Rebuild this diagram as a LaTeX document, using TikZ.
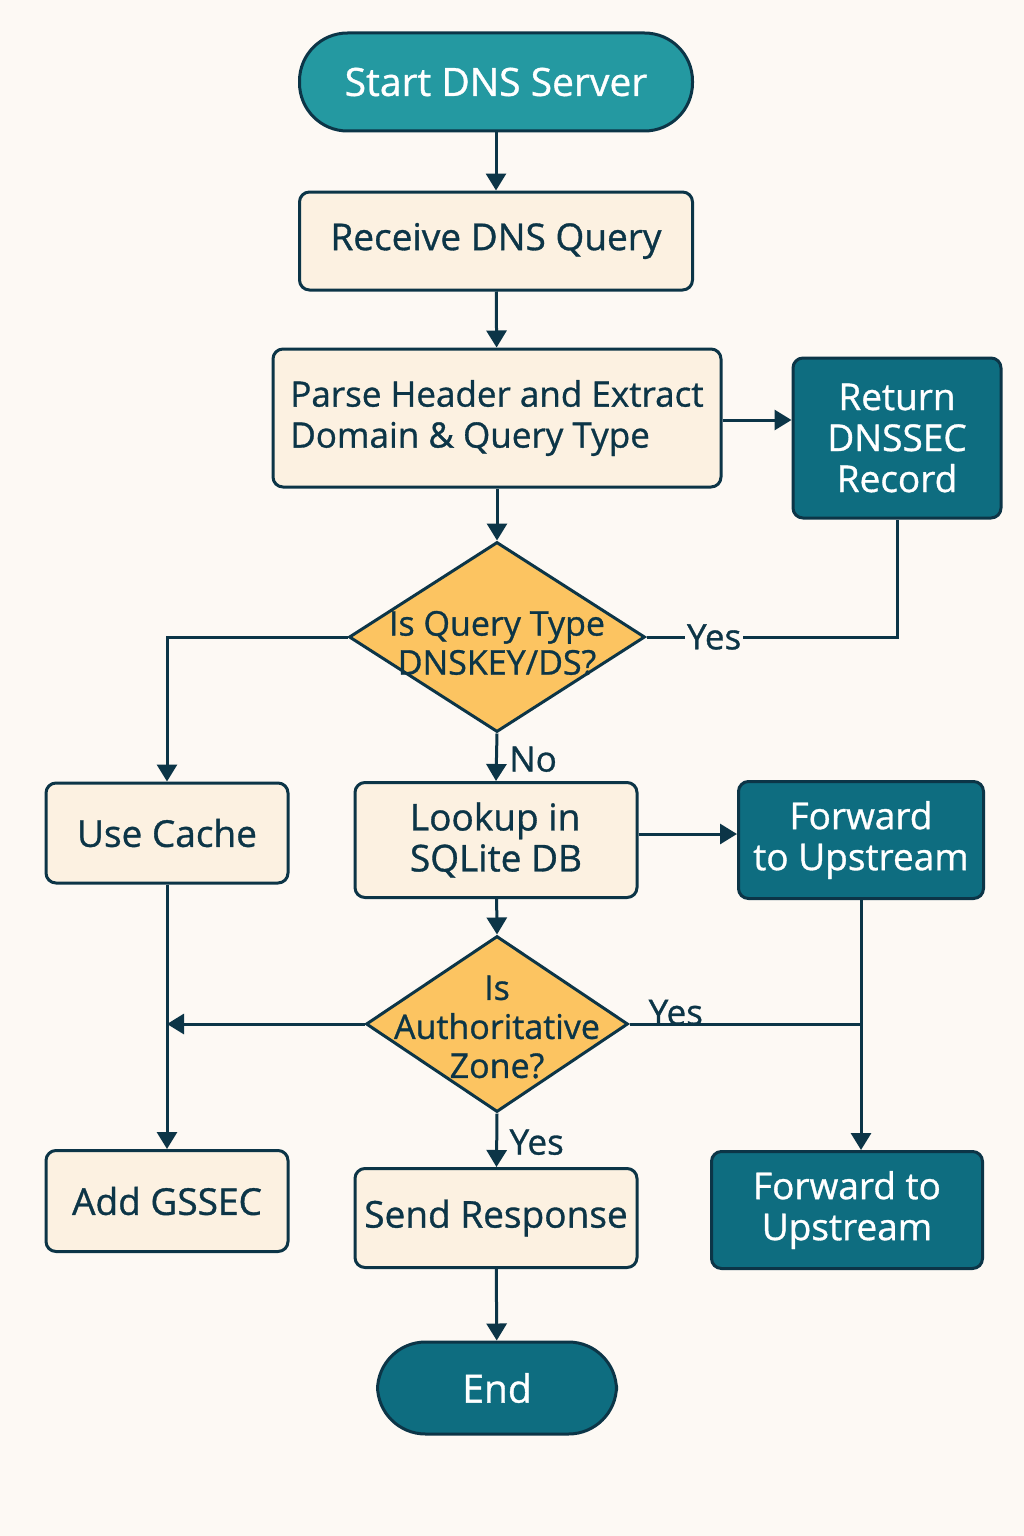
\documentclass[tikz,border=0pt]{standalone}
\usepackage{fontspec}
\setmainfont{Open Sans}[FakeBold=0.9]
\usepackage{xcolor}
\usepackage{tikz}
\usetikzlibrary{shapes,shapes.geometric,arrows.meta,positioning,calc}

\definecolor{bgcream}{HTML}{FDF9F4}
\definecolor{boxcream}{HTML}{FCF1E1}
\definecolor{inkdark}{HTML}{0C3547}
\definecolor{tealstart}{HTML}{2499A1}
\definecolor{tealdark}{HTML}{0E6D80}
\definecolor{amber}{HTML}{FCC461}

\begin{document}
\begin{tikzpicture}[
    x=1pt, y=-1pt,
    font=\fontsize{37}{41}\selectfont,
    >={Triangle[width=20pt,length=17pt]},
    line width=3pt,
    every node/.style={text=inkdark},
    process/.style={draw=inkdark, fill=boxcream, rounded corners=10pt, align=center, inner sep=0pt},
    darkbox/.style={draw=inkdark, fill=tealdark, rounded corners=10pt, align=center, inner sep=0pt, text=white},
    terminal/.style={draw=inkdark, rounded corners=48pt, align=center, inner sep=0pt, text=white,
                     font=\fontsize{39}{43}\selectfont},
    decision/.style={draw=inkdark, fill=amber, diamond, inner sep=0pt},
    dectext/.style={align=center, text=inkdark, font=\fontsize{34}{39}\selectfont},
    flow/.style={draw=inkdark, ->},
    link/.style={draw=inkdark},
    answer/.style={fill=bgcream, inner sep=2pt, font=\fontsize{35}{40}\selectfont}
]
    % Background
    \fill[bgcream] (0,0) rectangle (1024,1536);
    \useasboundingbox (0,0) rectangle (1024,1536);

    % Main column
    \node[terminal, fill=tealstart, minimum width=393, minimum height=98] (start) at (496,82) {Start DNS Server};
    \node[process, minimum width=393, minimum height=98] (recv) at (496,241) {Receive DNS Query};
    \node[process, minimum width=448, minimum height=138, align=left,
          font=\fontsize{35}{41}\selectfont] (parse) at (497,418) {Parse Header and Extract\\Domain \& Query Type};
    \node[decision, minimum width=296, minimum height=190,
          label={[dectext, yshift=-6pt]center:Is Query Type\\DNSKEY/DS?}] (qtype) at (497,637) {};
    \node[process, minimum width=282, minimum height=115, align=left] (lookup) at (496,840) {Lookup in\\SQLite DB};
    \node[decision, minimum width=262, minimum height=176,
          label={[dectext, yshift=-3pt]center:Is\\Authoritative\\Zone?}] (auth) at (497,1024) {};
    \node[process, minimum width=282, minimum height=99] (send) at (496,1218) {Send Response};
    \node[terminal, fill=tealdark, minimum width=239, minimum height=92] (stop) at (497,1388) {End};

    % Side boxes
    \node[darkbox, minimum width=208, minimum height=160] (dnssec) at (897,438) {Return\\DNSSEC\\Record};
    \node[process, minimum width=242, minimum height=100] (cache) at (167,833) {Use Cache};
    \node[darkbox, minimum width=245, minimum height=117] (fwdup) at (861,840) {Forward\\to Upstream};
    \node[process, minimum width=242, minimum height=101] (gssec) at (167,1201) {Add GSSEC};
    \node[darkbox, minimum width=271, minimum height=117] (fwdlow) at (847,1210) {Forward to\\Upstream};

    % Junctions
    \coordinate (cachejoin) at (cache.south |- auth.west);
    \coordinate (fwdjoin) at (fwdup.south |- auth.east);

    % Connectors
    \draw[flow] ([yshift=-2pt]parse.east) -- ([yshift=-2pt]parse.east -| dnssec.west);
    \draw[flow] (start) -- (recv);
    \draw[flow] (recv) -- (parse);
    \draw[flow] (parse) -- (qtype.north);
    \draw[flow] (qtype.west) -| (cache.north);
    \draw[link] (qtype.east) -| node[answer, pos=0.135] (yesone) {Yes} (dnssec.south);
    \draw[flow] (qtype.south) -- node[right, xshift=8pt, yshift=-2pt, font=\fontsize{35}{40}\selectfont] (noone) {No} (lookup.north);
    \draw[flow] ([yshift=6pt]lookup.east) -- ([yshift=6pt]lookup.east -| fwdup.west);
    \draw[flow] (lookup) -- (auth.north);
    \draw[flow] (auth.west) -- (cachejoin);
    \draw[link] (auth.east) -- node[above, pos=0.2, yshift=-6pt, font=\fontsize{35}{40}\selectfont] (yestwo) {Yes} (fwdjoin);
    \draw[flow] (cache) -- (gssec);
    \draw[flow] (fwdup.south) -- (fwdup.south |- fwdlow.north);
    \draw[flow] (auth.south) -- node[right, xshift=8pt, yshift=-2pt, font=\fontsize{35}{40}\selectfont] (yesthree) {Yes} (send);
    \draw[flow] (send) -- (stop);
\end{tikzpicture}
\end{document}
